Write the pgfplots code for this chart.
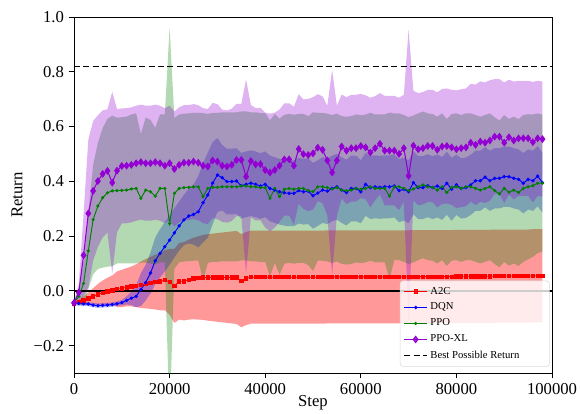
\documentclass[border=0pt]{standalone}
\usepackage{fontspec}
\setmainfont{Liberation Serif}
\usepackage{pgfplots}
\pgfplotsset{compat=1.18}
\usepackage{pgfplotstable}
\usepgfplotslibrary{fillbetween}
\definecolor{dviolet}{RGB}{148,0,211}
\definecolor{mgreen}{RGB}{0,128,0}
\pgfplotstableread{
k am as dm ds pm ps xm xs
0 -0.046 0.003 -0.045 0.008 -0.044 0.005 -0.044 0.005
1 -0.041 0.008 -0.046 0.008 -0.020 0.030 -0.006 0.030
2 -0.035 0.015 -0.047 0.008 0.027 0.080 0.130 0.150
3 -0.028 0.022 -0.048 0.008 0.146 0.140 0.283 0.270
4 -0.020 0.030 -0.052 0.008 0.260 0.200 0.365 0.255
5 -0.013 0.038 -0.054 0.008 0.310 0.230 0.401 0.240
6 -0.007 0.045 -0.053 0.008 0.340 0.255 0.427 0.232
7 -0.002 0.050 -0.052 0.008 0.358 0.270 0.438 0.225
8 0.002 0.054 -0.050 0.008 0.365 0.275 0.395 0.332
9 0.006 0.065 -0.047 0.008 0.366 0.266 0.439 0.225
10 0.009 0.068 -0.043 0.010 0.367 0.267 0.456 0.210
11 0.013 0.070 -0.035 0.015 0.368 0.268 0.457 0.210
12 0.016 0.073 -0.027 0.025 0.372 0.272 0.460 0.210
13 0.019 0.078 -0.020 0.040 0.374 0.274 0.466 0.210
14 0.022 0.085 0.005 0.060 0.338 0.235 0.470 0.210
15 0.026 0.090 0.030 0.065 0.368 0.265 0.466 0.210
16 0.029 0.095 0.065 0.075 0.362 0.262 0.466 0.210
17 0.032 0.100 0.110 0.085 0.346 0.250 0.470 0.210
18 0.034 0.105 0.137 0.088 0.374 0.270 0.466 0.210
19 0.039 0.110 0.161 0.090 0.374 0.270 0.457 0.210
20 0.033 0.120 0.185 0.090 0.246 0.715 0.466 0.210
21 0.018 0.135 0.212 0.090 0.356 0.275 0.445 0.210
22 0.035 0.140 0.237 0.090 0.374 0.270 0.460 0.210
23 0.035 0.143 0.259 0.092 0.377 0.270 0.468 0.210
24 0.041 0.146 0.273 0.100 0.378 0.270 0.468 0.210
25 0.045 0.149 0.279 0.110 0.380 0.270 0.472 0.210
26 0.047 0.152 0.289 0.130 0.380 0.270 0.468 0.210
27 0.049 0.155 0.322 0.145 0.344 0.305 0.457 0.210
28 0.049 0.158 0.350 0.155 0.374 0.272 0.454 0.210
29 0.049 0.160 0.393 0.150 0.378 0.272 0.476 0.210
30 0.049 0.162 0.423 0.135 0.378 0.272 0.472 0.210
31 0.049 0.164 0.413 0.120 0.380 0.272 0.457 0.205
32 0.049 0.166 0.399 0.120 0.380 0.272 0.454 0.205
33 0.049 0.168 0.399 0.120 0.380 0.272 0.460 0.205
34 0.049 0.170 0.401 0.120 0.380 0.272 0.478 0.205
35 0.037 0.170 0.384 0.120 0.383 0.272 0.478 0.205
36 0.045 0.170 0.389 0.120 0.383 0.272 0.417 0.355
37 0.050 0.170 0.393 0.120 0.380 0.272 0.474 0.205
38 0.050 0.170 0.389 0.120 0.380 0.272 0.462 0.205
39 0.050 0.170 0.383 0.120 0.377 0.272 0.463 0.205
40 0.050 0.170 0.389 0.120 0.377 0.272 0.441 0.210
41 0.050 0.170 0.374 0.120 0.338 0.285 0.432 0.215
42 0.050 0.170 0.368 0.120 0.374 0.272 0.441 0.210
43 0.050 0.170 0.362 0.120 0.344 0.285 0.457 0.205
44 0.050 0.170 0.358 0.120 0.371 0.272 0.480 0.205
45 0.050 0.170 0.356 0.120 0.374 0.272 0.480 0.205
46 0.050 0.170 0.356 0.120 0.371 0.272 0.457 0.215
47 0.050 0.170 0.366 0.120 0.374 0.272 0.518 0.200
48 0.050 0.170 0.362 0.120 0.374 0.272 0.499 0.200
49 0.050 0.170 0.364 0.120 0.366 0.272 0.496 0.205
50 0.050 0.170 0.347 0.120 0.362 0.290 0.502 0.205
51 0.050 0.170 0.357 0.120 0.380 0.270 0.523 0.195
52 0.050 0.170 0.368 0.120 0.380 0.270 0.515 0.195
53 0.051 0.170 0.364 0.120 0.377 0.270 0.476 0.200
54 0.051 0.170 0.374 0.120 0.372 0.270 0.432 0.375
55 0.051 0.170 0.380 0.120 0.377 0.270 0.476 0.200
56 0.051 0.170 0.368 0.120 0.368 0.270 0.527 0.190
57 0.051 0.170 0.359 0.120 0.366 0.270 0.512 0.195
58 0.051 0.170 0.374 0.120 0.368 0.270 0.521 0.195
59 0.051 0.170 0.374 0.120 0.374 0.270 0.521 0.195
60 0.051 0.170 0.362 0.115 0.371 0.270 0.529 0.190
61 0.051 0.170 0.389 0.115 0.374 0.270 0.524 0.190
62 0.051 0.170 0.377 0.115 0.380 0.270 0.505 0.200
63 0.051 0.170 0.380 0.115 0.374 0.270 0.521 0.190
64 0.051 0.170 0.378 0.115 0.374 0.270 0.537 0.185
65 0.051 0.170 0.380 0.115 0.374 0.270 0.512 0.200
66 0.051 0.170 0.380 0.115 0.346 0.305 0.512 0.200
67 0.051 0.170 0.383 0.115 0.380 0.268 0.512 0.200
68 0.051 0.170 0.366 0.115 0.380 0.268 0.500 0.205
69 0.051 0.170 0.371 0.115 0.374 0.268 0.521 0.195
70 0.051 0.170 0.362 0.115 0.366 0.268 0.420 0.535
71 0.052 0.170 0.395 0.115 0.372 0.268 0.530 0.200
72 0.052 0.170 0.377 0.115 0.380 0.268 0.517 0.205
73 0.052 0.170 0.377 0.115 0.387 0.268 0.521 0.205
74 0.052 0.170 0.384 0.115 0.380 0.268 0.529 0.205
75 0.052 0.170 0.377 0.115 0.378 0.268 0.529 0.205
76 0.052 0.170 0.383 0.115 0.368 0.268 0.515 0.210
77 0.052 0.170 0.374 0.115 0.380 0.268 0.527 0.210
78 0.052 0.170 0.393 0.115 0.359 0.268 0.529 0.210
79 0.052 0.170 0.371 0.115 0.378 0.268 0.524 0.210
80 0.053 0.170 0.387 0.110 0.380 0.268 0.517 0.215
81 0.053 0.170 0.374 0.110 0.374 0.268 0.521 0.215
82 0.053 0.170 0.377 0.110 0.380 0.268 0.524 0.215
83 0.053 0.170 0.387 0.110 0.380 0.268 0.541 0.215
84 0.053 0.170 0.402 0.110 0.374 0.268 0.533 0.220
85 0.053 0.170 0.402 0.110 0.368 0.268 0.545 0.220
86 0.053 0.170 0.415 0.110 0.374 0.268 0.541 0.220
87 0.053 0.170 0.402 0.110 0.380 0.268 0.549 0.220
88 0.054 0.170 0.411 0.110 0.366 0.268 0.563 0.210
89 0.054 0.170 0.411 0.110 0.354 0.268 0.563 0.210
90 0.054 0.170 0.417 0.110 0.374 0.268 0.541 0.220
91 0.054 0.170 0.417 0.110 0.360 0.268 0.561 0.210
92 0.054 0.170 0.411 0.110 0.368 0.268 0.549 0.215
93 0.054 0.170 0.407 0.110 0.359 0.268 0.557 0.210
94 0.054 0.170 0.393 0.110 0.374 0.268 0.557 0.210
95 0.054 0.170 0.407 0.110 0.380 0.265 0.557 0.210
96 0.055 0.170 0.402 0.110 0.384 0.260 0.543 0.220
97 0.055 0.170 0.419 0.110 0.393 0.255 0.557 0.210
98 0.055 0.170 0.395 0.110 0.393 0.250 0.554 0.210
}\data

\begin{document}
\begin{tikzpicture}
\begin{axis}[
  at={(0pt,0pt)}, anchor=south west,
  scale only axis, width=358.5pt, height=267pt,
  xmin=0, xmax=100000, ymin=-0.3, ymax=1.0,
  xtick={0,20000,40000,60000,80000,100000},
  xticklabels={0,20000,40000,60000,80000,100000},
  scaled x ticks=false,
  ytick={-0.2,0,0.2,0.4,0.6,0.8,1.0},
  yticklabels={−0.2,0.0,0.2,0.4,0.6,0.8,1.0},
  tick pos=left, tick align=outside, major tick length=4pt,
  tick style={black, line width=0.6pt},
  axis line style={black, line width=0.6pt},
  every tick label/.append style={font=\fontsize{12.5}{15}\selectfont},
  xlabel={Step}, ylabel={Return},
  label style={font=\fontsize{12.5}{15}\selectfont},
  xlabel style={at={(axis description cs:0.5,-0.0843)}, anchor=center},
  ylabel style={at={(axis description cs:-0.1192,0.5)}, anchor=center},
  legend cell align=left,
  legend style={at={(axis description cs:0.995,0.018)}, anchor=south east,
    font=\fontsize{8}{9.6}\selectfont, draw=black!15, fill=white,
    fill opacity=0.8, text opacity=1, rounded corners=2pt,
    row sep=1.2pt, inner sep=2.5pt},
]
% bands
\addplot[draw=none, forget plot, name path=aU] table[x expr=\thisrow{k}*1000, y expr=\thisrow{am}+\thisrow{as}] {\data};
\addplot[draw=none, forget plot, name path=aL] table[x expr=\thisrow{k}*1000, y expr=\thisrow{am}-\thisrow{as}] {\data};
\addplot[red, fill opacity=0.4, draw=none, forget plot] fill between[of=aU and aL];
\addplot[draw=none, forget plot, name path=dU] table[x expr=\thisrow{k}*1000, y expr=\thisrow{dm}+\thisrow{ds}] {\data};
\addplot[draw=none, forget plot, name path=dL] table[x expr=\thisrow{k}*1000, y expr=\thisrow{dm}-\thisrow{ds}] {\data};
\addplot[blue, fill opacity=0.3, draw=none, forget plot] fill between[of=dU and dL];
\addplot[draw=none, forget plot, name path=pU] table[x expr=\thisrow{k}*1000, y expr=\thisrow{pm}+\thisrow{ps}] {\data};
\addplot[draw=none, forget plot, name path=pL] table[x expr=\thisrow{k}*1000, y expr=\thisrow{pm}-\thisrow{ps}] {\data};
\addplot[mgreen, fill opacity=0.3, draw=none, forget plot] fill between[of=pU and pL];
\addplot[draw=none, forget plot, name path=xU] table[x expr=\thisrow{k}*1000, y expr=\thisrow{xm}+\thisrow{xs}] {\data};
\addplot[draw=none, forget plot, name path=xL] table[x expr=\thisrow{k}*1000, y expr=\thisrow{xm}-\thisrow{xs}] {\data};
\addplot[dviolet, fill opacity=0.3, draw=none, forget plot] fill between[of=xU and xL];
% zero line
\addplot[black, line width=1pt, forget plot] coordinates {(0,0) (100000,0)};
% means
\addplot[red, line width=0.6pt, mark=square*, mark size=1.25pt] table[x expr=\thisrow{k}*1000, y=am] {\data};
\addlegendentry{A2C}
\addplot[blue, line width=0.7pt, mark=*, mark size=0.9pt] table[x expr=\thisrow{k}*1000, y=dm] {\data};
\addlegendentry{DQN}
\addplot[mgreen, line width=0.7pt, mark=*, mark size=0.8pt] table[x expr=\thisrow{k}*1000, y=pm] {\data};
\addlegendentry{PPO}
\addplot[dviolet, line width=0.8pt, mark=diamond*, mark size=2.3pt] table[x expr=\thisrow{k}*1000, y=xm] {\data};
\addlegendentry{PPO-XL}
\addplot[black, line width=1.1pt, dash pattern=on 4.5pt off 2.5pt] coordinates {(0,0.82) (100000,0.82)};
\addlegendentry{Best Possible Return\hspace*{18pt}}
\end{axis}
\pgfresetboundingbox
\useasboundingbox (-55.5pt,-30pt) rectangle (379.5pt,279.75pt);
\end{tikzpicture}
\end{document}
